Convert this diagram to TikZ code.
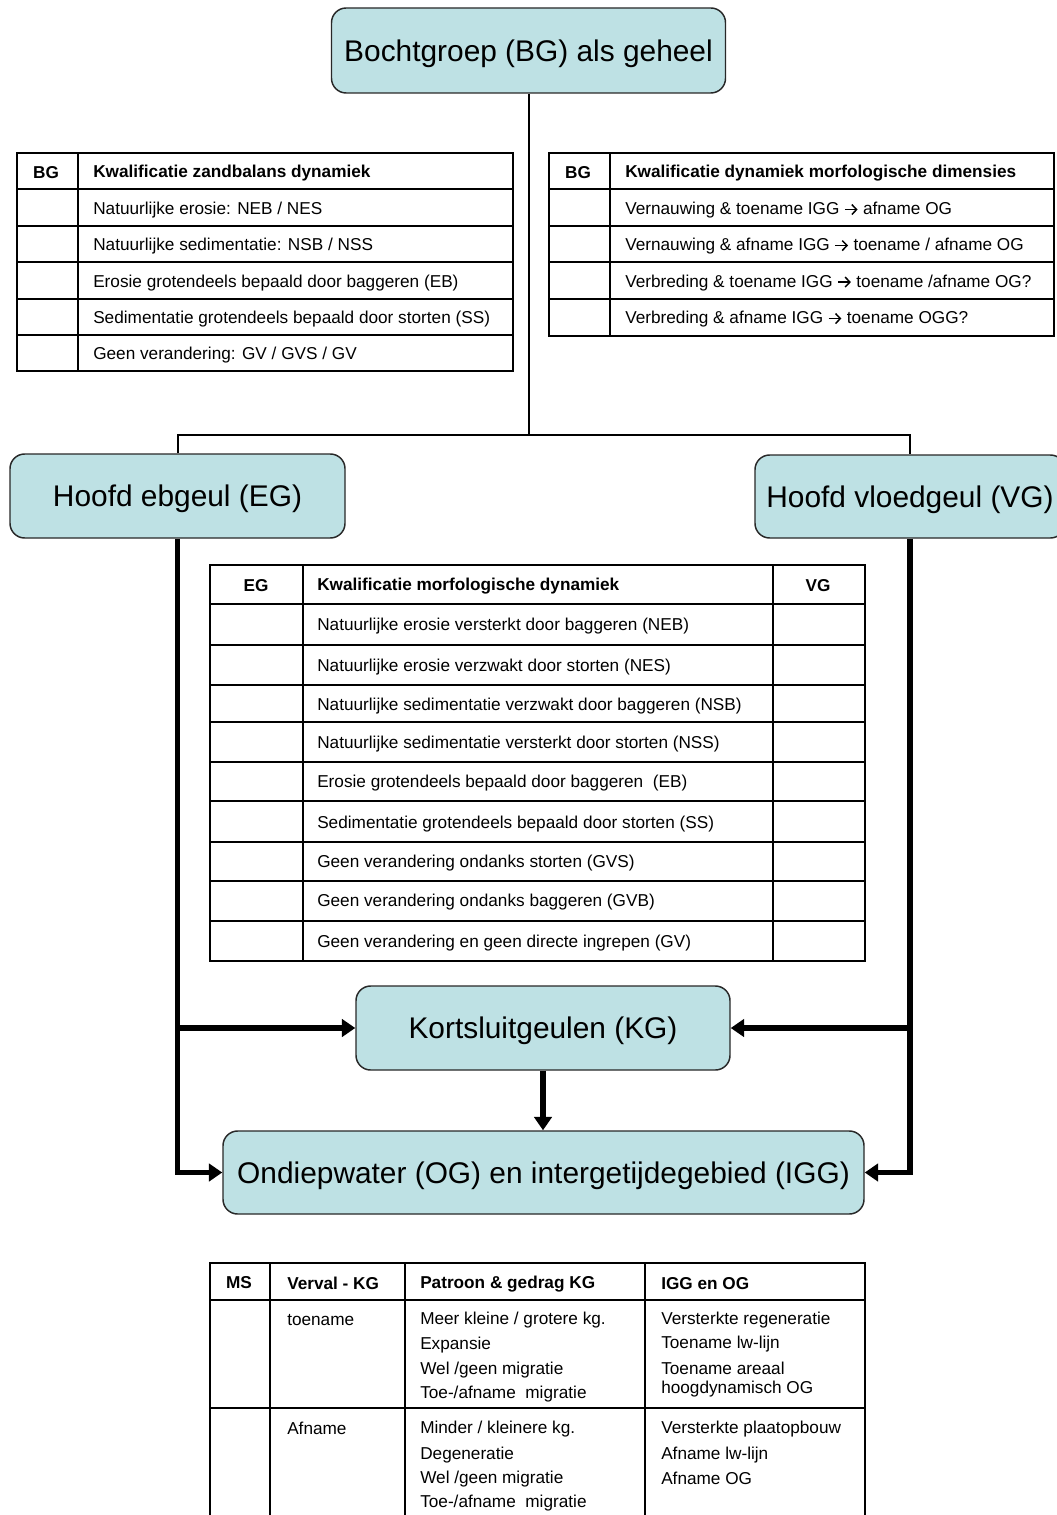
\documentclass[tikz,border=0pt]{standalone}
\usepackage{fontspec}
\setmainfont{Liberation Sans}
\usetikzlibrary{arrows.meta}
\definecolor{boxfill}{RGB}{190,225,228}
\definecolor{boxline}{RGB}{40,40,40}
\newcommand{\ar}{\tikz[baseline=-0.55ex]\draw[line width=1.1pt,-{Straight Barb[length=3.6pt,width=7.5pt]}] (0pt,0pt) -- (9.5pt,0pt);}
\newcommand{\lowtxt}[1]{\raisebox{-2.4pt}[\height][\depth]{#1}}
\tikzset{
  bigbox/.style={draw=boxline, line width=1.1pt, fill=boxfill, rounded corners=11pt,
    inner sep=0pt, align=center, font=\fontsize{22.4pt}{26pt}\selectfont},
  thinline/.style={line width=1.5pt},
  thickline/.style={line width=4pt, -{Triangle[length=10pt,width=13pt]}},
  tabline/.style={line width=1.2pt},
  taboutline/.style={line width=1.5pt},
  cell/.style={anchor=west, inner sep=0pt, yshift=-1.2pt, font=\fontsize{12.9pt}{15pt}\selectfont},
  ccell/.style={anchor=center, inner sep=0pt, yshift=-0.6pt, font=\fontsize{12.9pt}{15pt}\selectfont\bfseries},
  hcell/.style={anchor=west, inner sep=0pt, yshift=-1.2pt, font=\fontsize{12.9pt}{15pt}\selectfont\bfseries},
}
\begin{document}
\begin{tikzpicture}[x=0.75pt,y=-0.75pt]
\useasboundingbox (0,0) rectangle (1056,1515);
\fill[white] (0,0) rectangle (1056,1515);

% ---------- main boxes
\node[bigbox, minimum width=295.5pt, minimum height=63.75pt] (bg) at (528.5,50.5) {\lowtxt{Bochtgroep (BG) als geheel}};
\node[bigbox, minimum width=251.25pt, minimum height=63pt] (eg) at (177.5,496) {\lowtxt{Hoofd ebgeul (EG)}};
\node[bigbox, minimum width=232.5pt, minimum height=62.25pt] (vg) at (910,496.5) {\lowtxt{Hoofd vloedgeul (VG)}};
\node[bigbox, minimum width=280.5pt, minimum height=63pt] (kg) at (543,1028) {\lowtxt{Kortsluitgeulen (KG)}};
\node[bigbox, minimum width=480.75pt, minimum height=62.25pt] (og) at (543.5,1172.5) {\lowtxt{Ondiepwater (OG) en intergetijdegebied (IGG)}};

% ---------- thin tree connectors
\coordinate (jc) at (529.5,435);
\draw[thinline] (bg.south) -- (bg.south |- jc);
\draw[thinline] (eg.north) -- (eg.north |- jc) -- (vg.north |- jc) -- (vg.north);

% ---------- thick connectors
\coordinate (ek) at (eg.south |- kg.west);
\coordinate (vk) at (vg.south |- kg.east);
\draw[thickline] (eg.south) |- (og.west);
\draw[thickline] (vg.south) |- (og.east);
\draw[thickline] (ek) -- (kg.west);
\draw[thickline] (vk) -- (kg.east);
\draw[thickline] (kg.south) -- (kg.south |- og.north);

% ---------- table 1 (left top)
\foreach \y in {189,226,262,299,335} \draw[tabline] (17,\y) -- (513,\y);
\draw[tabline] (78,153) -- (78,371);
\draw[taboutline] (17,153) rectangle (513,371);
\node[ccell] (a0) at (46,171.5) {BG};
\node[hcell] (a1) at (93,171.5) {Kwalificatie zandbalans dynamiek};
\node[cell] (a2) at (93,208.5) {Natuurlijke erosie: NEB / NES};
\node[cell] (a3) at (93,244.5) {Natuurlijke sedimentatie: NSB / NSS};
\node[cell] (a4) at (93,281) {Erosie grotendeels bepaald door baggeren (EB)};
\node[cell] (a5) at (93,317.5) {Sedimentatie grotendeels bepaald door storten (SS)};
\node[cell] (a6) at (93,353.5) {Geen verandering: GV / GVS / GV};

% ---------- table 2 (right top)
\foreach \y in {189,226,262,299} \draw[tabline] (549,\y) -- (1054,\y);
\draw[tabline] (610,153) -- (610,336);
\draw[taboutline] (549,153) rectangle (1054,336);
\node[ccell] (b0) at (578,171.5) {BG};
\node[hcell] (b1) at (625,171.5) {Kwalificatie dynamiek morfologische dimensies};
\node[cell] (b2) at (625,208.5) {Vernauwing \& toename IGG \ar\ afname OG};
\node[cell] (b3) at (625,244.5) {Vernauwing \& afname IGG \ar\ toename / afname OG};
\node[cell] (b4) at (625,281) {Verbreding \& toename IGG \ar\ toename /afname OG?};
\node[cell] (b5) at (625,317.5) {Verbreding \& afname IGG \ar\ toename OGG?};

% ---------- table 3 (middle)
\foreach \y in {604,645,685,801,881} \draw[tabline] (210,\y) -- (865,\y);
\foreach \y in {722,762,842,921} \draw[line width=2pt] (210,\y) -- (865,\y);
\draw[tabline] (303,565) -- (303,961);
\draw[tabline] (773,565) -- (773,961);
\draw[taboutline] (210,565) rectangle (865,961);
\node[ccell] (c0) at (256,584.5) {EG};
\node[hcell] (c1) at (317,584.5) {Kwalificatie morfologische dynamiek};
\node[ccell] (c2) at (818,584.5) {VG};
\node[cell] (c3) at (317,624) {Natuurlijke erosie versterkt door baggeren (NEB)};
\node[cell] (c4) at (317,665) {Natuurlijke erosie verzwakt door storten (NES)};
\node[cell] (c5) at (317,704) {Natuurlijke sedimentatie verzwakt door baggeren (NSB)};
\node[cell] (c6) at (317,742) {Natuurlijke sedimentatie versterkt door storten (NSS)};
\node[cell] (c7) at (317,781) {Erosie grotendeels bepaald door baggeren~ (EB)};
\node[cell] (c8) at (317,822) {Sedimentatie grotendeels bepaald door storten (SS)};
\node[cell] (c9) at (317,861) {Geen verandering ondanks storten (GVS)};
\node[cell] (c10) at (317,900) {Geen verandering ondanks baggeren (GVB)};
\node[cell] (c11) at (317,941) {Geen verandering en geen directe ingrepen (GV)};

% ---------- table 4 (bottom)
\draw[taboutline] (210,1530) -- (210,1263) -- (865,1263) -- (865,1530);
\draw[tabline] (210,1300) -- (865,1300);
\draw[tabline] (210,1408) -- (865,1408);
\foreach \x in {270,405,645} \draw[tabline] (\x,1263) -- (\x,1530);
\node[ccell] (d0) at (239,1282) {MS};
\node[hcell] (d1) at (287,1282) {Verval - KG};
\node[hcell] (d2) at (420,1282) {Patroon \& gedrag KG};
\node[hcell] (d3) at (661,1282) {IGG en OG};
\node[cell] (e1) at (287,1318) {toename};
\node[cell] (e2) at (420,1318) {Meer kleine / grotere kg.};
\node[cell] (e3) at (420,1343) {Expansie};
\node[cell] (e4) at (420,1368) {Wel /geen migratie};
\node[cell] (e5) at (420,1392) {Toe-/afname~ migratie};
\node[cell] (e6) at (661,1318) {Versterkte regeneratie};
\node[cell] (e7) at (661,1342) {Toename lw-lijn};
\node[cell] (e8) at (661,1367) {Toename areaal};
\node[cell] (e9) at (661,1387) {hoogdynamisch OG};
\node[cell] (f1) at (287,1427) {Afname};
\node[cell] (f2) at (420,1427) {Minder / kleinere kg.};
\node[cell] (f3) at (420,1453) {Degeneratie};
\node[cell] (f4) at (420,1477) {Wel /geen migratie};
\node[cell] (f5) at (420,1501) {Toe-/afname~ migratie};
\node[cell] (f6) at (661,1427) {Versterkte plaatopbouw};
\node[cell] (f7) at (661,1453) {Afname lw-lijn};
\node[cell] (f8) at (661,1477) {Afname OG};
\end{tikzpicture}
\end{document}
